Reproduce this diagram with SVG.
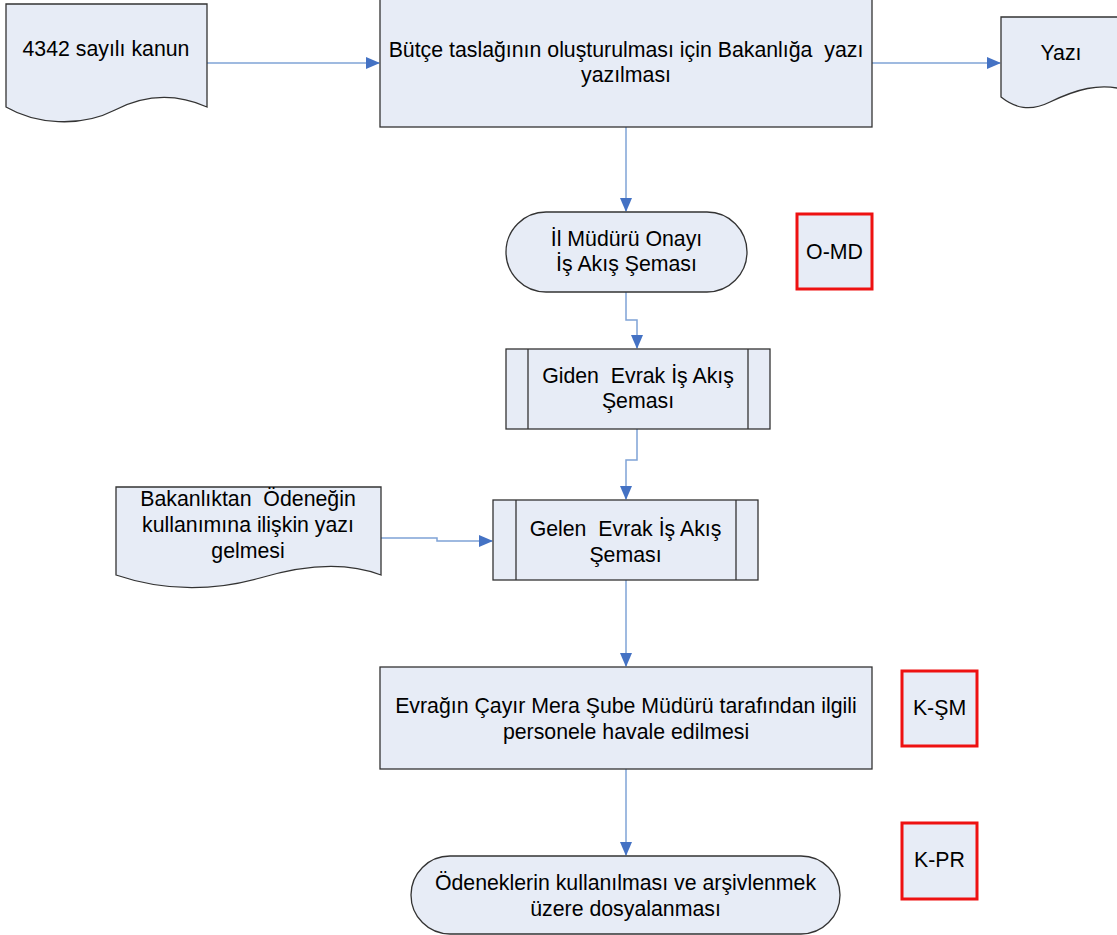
<svg xmlns="http://www.w3.org/2000/svg" width="1117" height="935" viewBox="0 0 1117 935">
<style>
.s{fill:#E7ECF6;stroke:#333;stroke-width:1.3}
.r{fill:#E7ECF6;stroke:#EE1111;stroke-width:3}
.t{font-family:"Liberation Sans",Arial,sans-serif;font-size:21.3px;fill:#000;text-anchor:middle;white-space:pre}
.c{fill:none;stroke:#7FA3D6;stroke-width:1.5}
</style>
<defs>
<marker id="a" markerWidth="14" markerHeight="12" refX="13" refY="6" orient="auto" markerUnits="userSpaceOnUse">
<path d="M0,0 L14,6 L0,12 Z" fill="#4472C4"/>
</marker>
</defs>
<g id="connectors">
<path class="c" d="M207,63 H379" marker-end="url(#a)"/>
<path class="c" d="M872,63 H1000" marker-end="url(#a)"/>
<path class="c" d="M626,127 V211" marker-end="url(#a)"/>
<path class="c" d="M626,292 V320 H637 V348" marker-end="url(#a)"/>
<path class="c" d="M637,429 V460 H626 V499" marker-end="url(#a)"/>
<path class="c" d="M381,538 H437 V541 H492" marker-end="url(#a)"/>
<path class="c" d="M626,580 V666" marker-end="url(#a)"/>
<path class="c" d="M626,769 V855" marker-end="url(#a)"/>
</g>
<g id="doc-kanun">
<path class="s" d="M6,4 H207 V107 C180,95 150,92 115,110 C80,128 35,124 6,107 Z"/>
<text class="t" x="106" y="56">4342 sayılı kanun</text>
</g>
<g id="proc-butce">
<rect class="s" x="380" y="-2" width="492" height="129"/>
<text class="t" x="626" y="57" xml:space="preserve">Bütçe taslağının oluşturulması için Bakanlığa  yazı</text>
<text class="t" x="626" y="82">yazılması</text>
</g>
<g id="doc-yazi">
<path class="s" d="M1001,17 H1125 V90 C1100,82 1075,90 1050,102 C1030,112 1015,108 1001,97 Z"/>
<text class="t" x="1061" y="60">Yazı</text>
</g>
<g id="term-onay">
<rect class="s" x="506" y="212" width="241" height="80" rx="40" ry="40"/>
<text class="t" x="626.5" y="246">İl Müdürü Onayı</text>
<text class="t" x="626.5" y="271">İş Akış Şeması</text>
</g>
<g id="tag-omd">
<rect class="r" x="797" y="214" width="75" height="75"/>
<text class="t" x="834.5" y="259">O-MD</text>
</g>
<g id="sub-giden">
<rect class="s" x="506" y="349" width="264" height="80"/>
<line x1="528" y1="349" x2="528" y2="429" stroke="#333" stroke-width="1.3"/>
<line x1="748" y1="349" x2="748" y2="429" stroke="#333" stroke-width="1.3"/>
<text class="t" x="638" y="383" xml:space="preserve">Giden  Evrak İş Akış</text>
<text class="t" x="638" y="408">Şeması</text>
</g>
<g id="doc-bakanlik">
<path class="s" d="M116,487 H381 V575 C350,563 310,563 260,578 C210,592 160,590 116,575 Z"/>
<text class="t" x="248" y="506" xml:space="preserve">Bakanlıktan  Ödeneğin</text>
<text class="t" x="248" y="532">kullanımına ilişkin yazı</text>
<text class="t" x="248" y="558">gelmesi</text>
</g>
<g id="sub-gelen">
<rect class="s" x="493" y="500" width="265" height="80"/>
<line x1="516" y1="500" x2="516" y2="580" stroke="#333" stroke-width="1.3"/>
<line x1="736" y1="500" x2="736" y2="580" stroke="#333" stroke-width="1.3"/>
<text class="t" x="625.5" y="536" xml:space="preserve">Gelen  Evrak İş Akış</text>
<text class="t" x="625.5" y="562">Şeması</text>
</g>
<g id="proc-havale">
<rect class="s" x="380" y="667" width="492" height="102"/>
<text class="t" x="626" y="713">Evrağın Çayır Mera Şube Müdürü tarafından ilgili</text>
<text class="t" x="626" y="739">personele havale edilmesi</text>
</g>
<g id="tag-ksm">
<rect class="r" x="902" y="671" width="75" height="75"/>
<text class="t" x="939.5" y="715">K-ŞM</text>
</g>
<g id="tag-kpr">
<rect class="r" x="902" y="823" width="75" height="76"/>
<text class="t" x="939.5" y="867">K-PR</text>
</g>
<g id="term-odenek">
<rect class="s" x="411" y="856" width="429" height="78" rx="39" ry="39"/>
<text class="t" x="625.5" y="890">Ödeneklerin kullanılması ve arşivlenmek</text>
<text class="t" x="625.5" y="916">üzere dosyalanması</text>
</g>
</svg>
